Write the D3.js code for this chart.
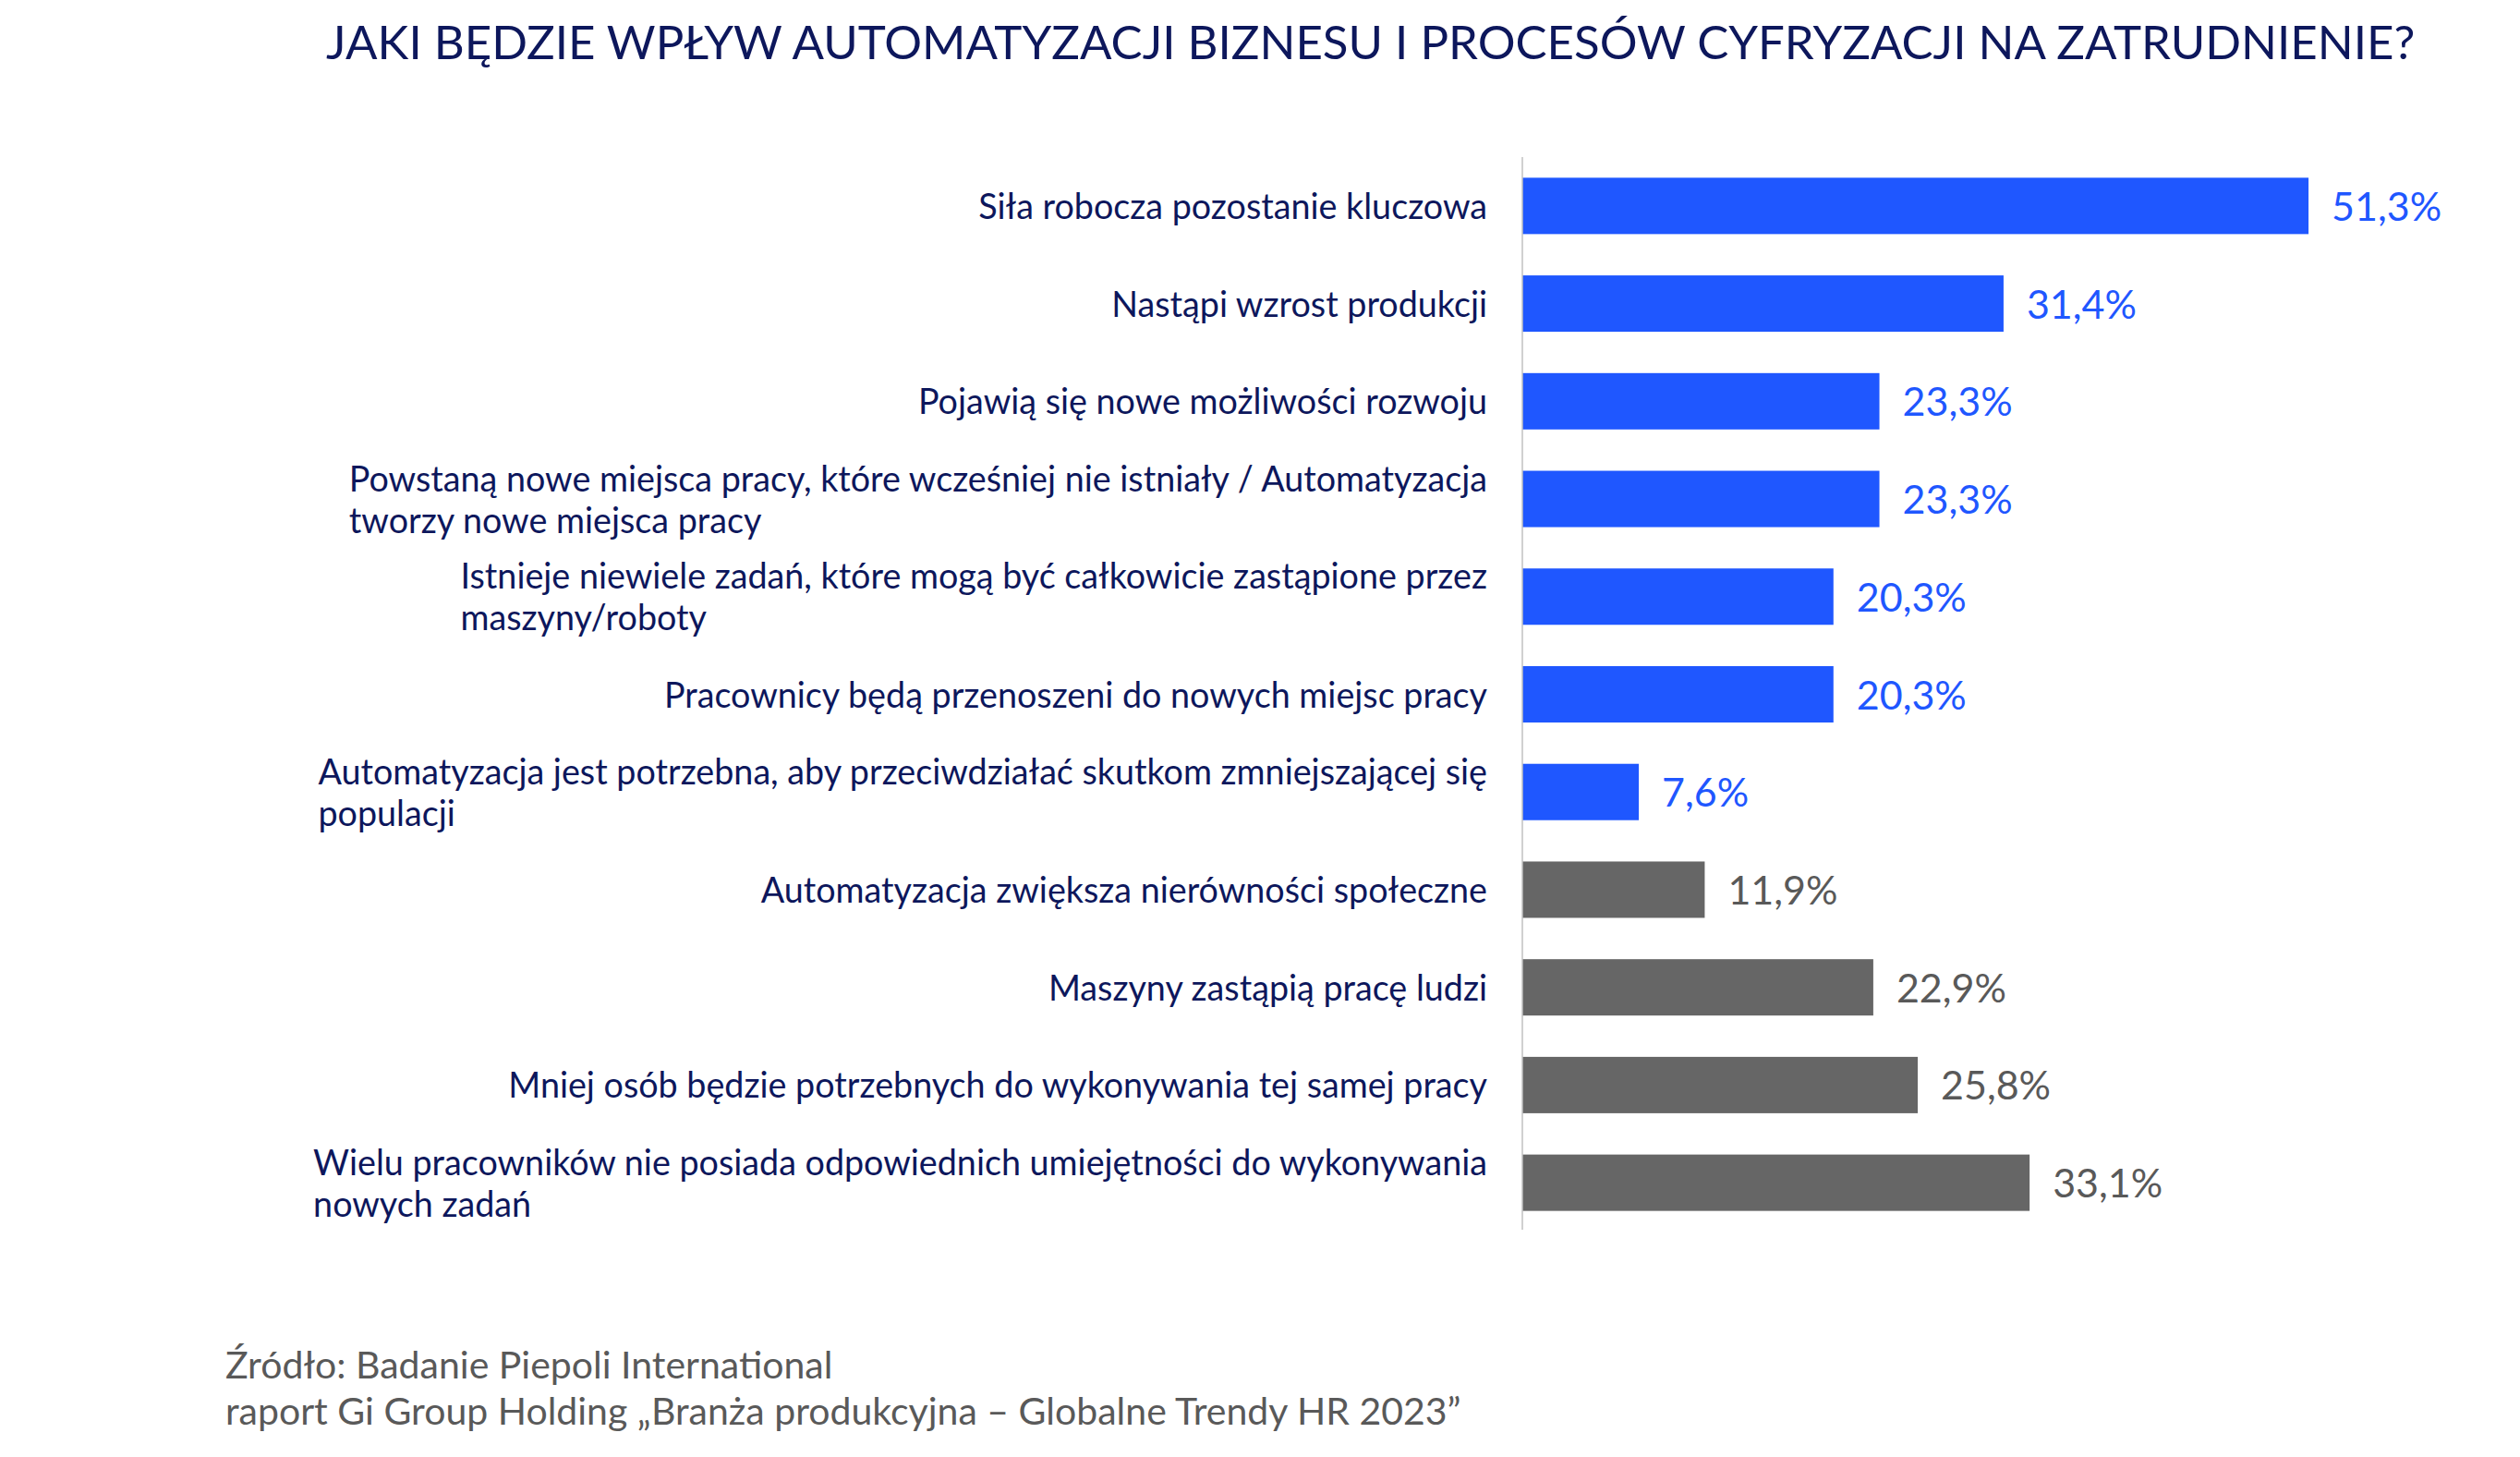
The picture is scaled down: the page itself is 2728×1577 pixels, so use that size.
<!DOCTYPE html>
<html>
<head>
<meta charset="utf-8">
<script src="https://cdn.jsdelivr.net/npm/d3@7"></script>
<style>
  html, body { margin: 0; padding: 0; background: #ffffff; }
  svg { display: block; }
  text { font-family: Lato, "Noto Sans", sans-serif; }
</style>
</head>
<body>
<svg id="chart" width="2728" height="1577"></svg>
<script>
// ---- DATA ----
const title = "JAKI BĘDZIE WPŁYW AUTOMATYZACJI BIZNESU I PROCESÓW CYFRYZACJI NA ZATRUDNIENIE?";
const categories = [
  ["Siła robocza pozostanie kluczowa"],
  ["Nastąpi wzrost produkcji"],
  ["Pojawią się nowe możliwości rozwoju"],
  ["Powstaną nowe miejsca pracy, które wcześniej nie istniały / Automatyzacja", "tworzy nowe miejsca pracy"],
  ["Istnieje niewiele zadań, które mogą być całkowicie zastąpione przez", "maszyny/roboty"],
  ["Pracownicy będą przenoszeni do nowych miejsc pracy"],
  ["Automatyzacja jest potrzebna, aby przeciwdziałać skutkom zmniejszającej się", "populacji"],
  ["Automatyzacja zwiększa nierówności społeczne"],
  ["Maszyny zastąpią pracę ludzi"],
  ["Mniej osób będzie potrzebnych do wykonywania tej samej pracy"],
  ["Wielu pracowników nie posiada odpowiednich umiejętności do wykonywania", "nowych zadań"]
];
const values = [51.3, 31.4, 23.3, 23.3, 20.3, 20.3, 7.6, 11.9, 22.9, 25.8, 33.1];
const sentiment = ["pos", "pos", "pos", "pos", "pos", "pos", "pos", "neg", "neg", "neg", "neg"];
const sourceLines = [
  "Źródło: Badanie Piepoli International",
  "raport Gi Group Holding „Branża produkcyjna – Globalne Trendy HR 2023”"
];

// ---- STYLE ----
const barColor = { pos: "#1f57ff", neg: "#666666" };
const valueColor = { pos: "#1f57ff", neg: "#595959" };
const navy = "#0d175c";

const svg = d3.select("#chart");

const axisX = 1648;
const x = d3.scaleLinear().domain([0, 60]).range([axisX, axisX + 60 * 16.59]);
const y = d3.scaleBand()
  .domain(d3.range(categories.length))
  .range([170, 1333])
  .paddingInner(0.423)
  .paddingOuter(0.2115);

// Title
svg.append("text")
  .attr("x", 353)
  .attr("y", 64)
  .attr("fill", navy)
  .attr("font-size", 51)
  .text(title);

// Bars
svg.append("g").selectAll("rect")
  .data(values)
  .join("rect")
  .attr("x", x(0))
  .attr("y", (d, i) => y(i))
  .attr("width", d => x(d) - x(0))
  .attr("height", y.bandwidth())
  .attr("fill", (d, i) => barColor[sentiment[i]]);

// Axis line
const yAxis = d3.axisLeft(y).tickSize(0).tickFormat("");
const axisG = svg.append("g").attr("transform", `translate(${axisX},0)`).call(yAxis);
axisG.select(".domain").attr("stroke", "#c0c0c0").attr("stroke-width", 1.5)
  .attr("d", `M0,170V1331`);

// Value labels
const fmt = v => d3.format(".1f")(v).replace(".", ",") + "%";
svg.append("g").selectAll("text")
  .data(values)
  .join("text")
  .attr("x", d => x(d) + 25)
  .attr("y", (d, i) => y(i) + y.bandwidth() / 2 + 16)
  .attr("font-size", 43)
  .attr("fill", (d, i) => valueColor[sentiment[i]])
  .text(fmt);

// Category labels (block right-aligned, lines left-aligned)
const labelRight = 1610;
const lineH = 45;
const labG = svg.append("g");
categories.forEach((lines, i) => {
  const cy = y(i) + y.bandwidth() / 2;
  const t = labG.append("text")
    .attr("font-size", 37.7)
    .attr("fill", navy);
  lines.forEach((ln, j) => {
    t.append("tspan")
      .attr("y", cy + 14 + (j - (lines.length - 1) / 2) * lineH)
      .text(ln);
  });
  let maxW = 0;
  t.selectAll("tspan").each(function () {
    maxW = Math.max(maxW, this.getComputedTextLength());
  });
  t.selectAll("tspan").attr("x", labelRight - maxW);
});

// Source
svg.append("g").selectAll("text")
  .data(sourceLines)
  .join("text")
  .attr("x", 244)
  .attr("y", (d, i) => 1492 + i * 50)
  .attr("font-size", 41)
  .attr("fill", "#595959")
  .text(d => d);
</script>
</body>
</html>
